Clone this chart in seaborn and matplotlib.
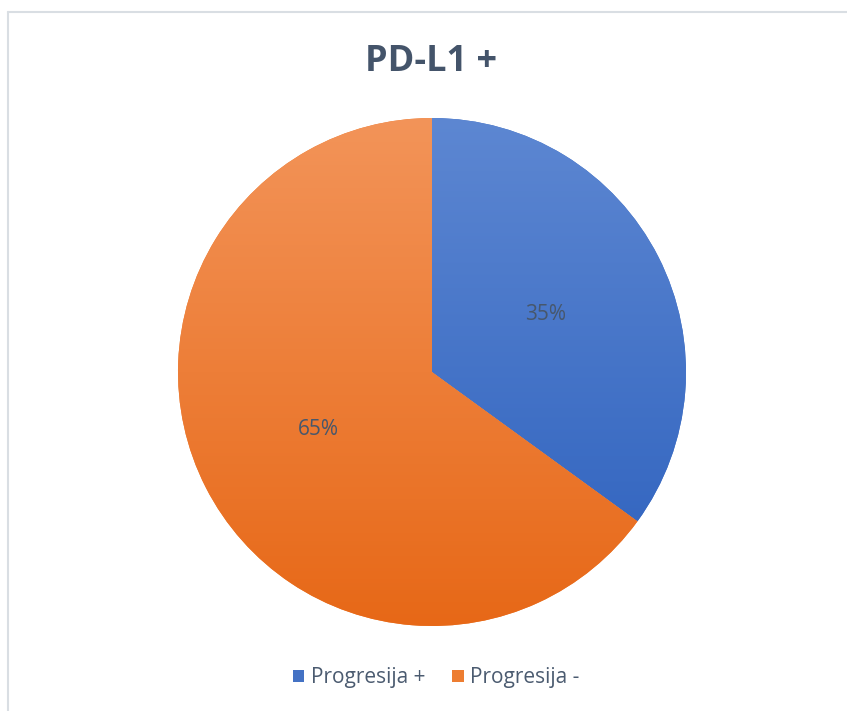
import matplotlib

matplotlib.use("Agg")
import matplotlib.pyplot as plt
import numpy as np
import seaborn as sns
from matplotlib.colors import LinearSegmentedColormap
from matplotlib.lines import Line2D
from matplotlib.patches import Patch

categories = ["Progresija +", "Progresija -"]
shares = [35, 65]
title = "PD-L1 +"

# light top -> dark bottom, like the Excel gradient fill
gradients = [("#5D87D2", "#2C60BD"), ("#F39459", "#E76817")]
mid_colors = ["#4472C4", "#ED7D31"]
text_color = "#44546A"

sns.set_theme(style="white")
plt.rcParams["font.family"] = ["Open Sans", "DejaVu Sans"]

W, H = 847, 711
fig = plt.figure(figsize=(W / 100, H / 100), dpi=100)
fig.patch.set_facecolor("white")

cx, cy, r = 432, 372, 254
ax = fig.add_axes([(cx - r) / W, (H - cy - r) / H, 2 * r / W, 2 * r / H])

wedges, texts, autotexts = ax.pie(
    shares,
    colors=mid_colors,
    startangle=90,
    counterclock=False,
    autopct="%1.0f%%",
    pctdistance=0.5,
    wedgeprops={"linewidth": 0},
    textprops={"color": "#47576C", "fontsize": 15},
)
ax.set_xlim(-1, 1)
ax.set_ylim(-1, 1)
ax.set_aspect("equal")
ax.axis("off")

grad = np.linspace(1, 0, 256).reshape(-1, 1)
for wedge, (top, bottom) in zip(wedges, gradients):
    cmap = LinearSegmentedColormap.from_list("g", [bottom, top])
    img = ax.imshow(grad, cmap=cmap, extent=(-1, 1, -1, 1), aspect="auto",
                    origin="upper", zorder=wedge.get_zorder() + 0.1)
    img.set_clip_path(wedge)
for t in autotexts:
    t.set_zorder(5)

fig.text(431 / W, 1 - 62 / H, title, ha="center", va="center",
         fontsize=26, fontweight="bold", color=text_color)

handles = [Patch(facecolor=c, edgecolor="none") for c in mid_colors]
leg = fig.legend(handles, categories, loc="center", bbox_to_anchor=(436 / W, 1 - 678 / H),
                 ncol=2, frameon=False, fontsize=15, handlelength=0.55, handleheight=0.55,
                 handletextpad=0.3, columnspacing=1.3)
for t in leg.get_texts():
    t.set_color("#4B5B70")

# partial chart-area border seen in the screenshot
border = "#D9DEE3"
fig.add_artist(Line2D([8 / W, 1], [1 - 12 / H, 1 - 12 / H], color=border, lw=1.5))
fig.add_artist(Line2D([8 / W, 8 / W], [0, 1 - 12 / H], color=border, lw=1.5))

fig.savefig("out.png", dpi=100)
